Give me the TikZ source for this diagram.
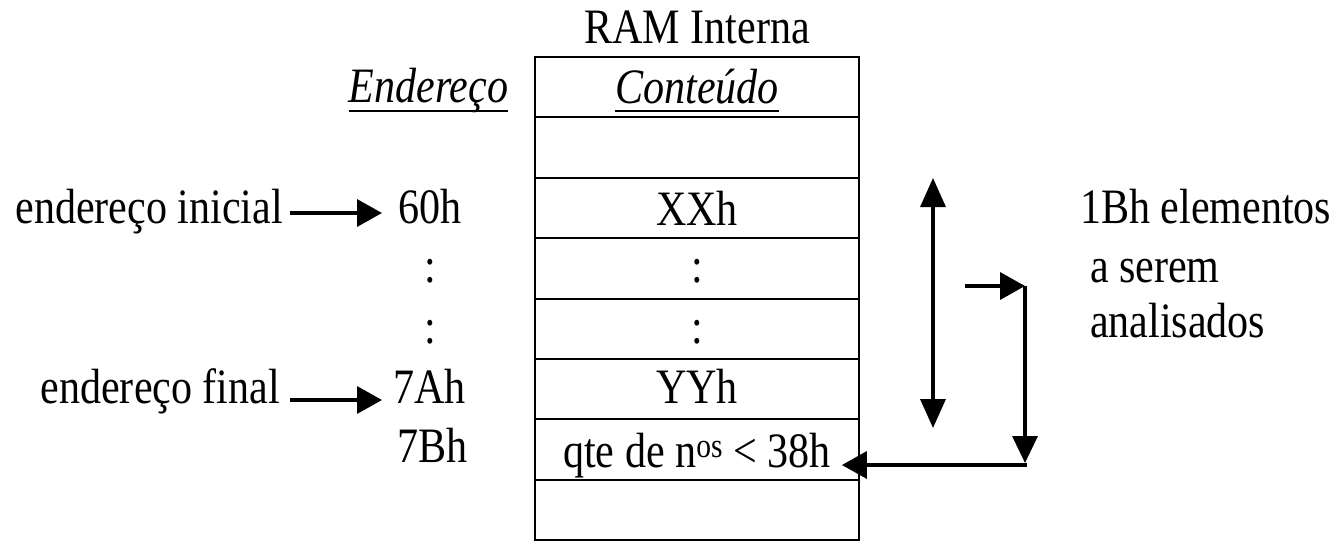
\documentclass[tikz,border=0pt]{standalone}
\usepackage{fontspec}
\setmainfont{Liberation Serif}[FakeStretch=0.85]
\usetikzlibrary{arrows.meta,calc}
\begin{document}
\begin{tikzpicture}[x=1pt,y=-1pt,
  txt/.style={inner sep=0pt,outer sep=0pt,font=\fontsize{49.5}{56}\selectfont},
  cell/.style={draw,line width=2pt,minimum width=324pt,minimum height=60.4pt,inner sep=0pt},
  arr/.style={line width=3.5pt,-{Triangle[length=25pt,width=27pt]}},
  darr/.style={line width=3.5pt,{Triangle[length=29pt,width=25pt]}-{Triangle[length=29pt,width=25pt]}},
  uline/.style={line width=2pt}]
\useasboundingbox (0,0) rectangle (1336,541);
% table cells
\foreach \i in {0,...,7}{
  \node[cell] (row\i) at (697,{57+30.2+60.4*\i}) {};
}
% title and headers
\node[txt,anchor=base] (ram) at (697,43) {RAM Interna};
\node[txt,anchor=base] (cont) at (697,103) {\itshape Conteúdo};
\node[txt,anchor=base] (endr) at (428.5,102) {\itshape Endereço};
\draw[uline] ([yshift=-8pt]cont.base west) -- ([yshift=-8pt]cont.base east);
\draw[uline] ([yshift=-9pt]endr.base west) -- ([yshift=-9pt]endr.base east);
% contents
\node[txt,anchor=base] (xx) at (697,225) {XXh};
\node[txt,anchor=base] (cd1) at (697,282) {:};
\node[txt,anchor=base] (cd2) at (697,343) {:};
\node[txt,anchor=base] (yy) at (697,403) {YYh};
\node[txt,anchor=base] (qte) at (697,467) {qte de n\textsuperscript{os} < 38h};
% addresses
\node[txt,anchor=base east] (ini) at (283,223) {endereço inicial};
\node[txt,anchor=base west] (a60) at (398,223) {60h};
\node[txt,anchor=base] (ad1) at (430,282) {:};
\node[txt,anchor=base] (ad2) at (430,343) {:};
\node[txt,anchor=base east] (fin) at (280,403) {endereço final};
\node[txt,anchor=base west] (a7a) at (393,403) {7Ah};
\node[txt,anchor=base west] (a7b) at (397,462) {7Bh};
% right text
\node[txt,anchor=base west] (el1) at (1080,223) {1Bh elementos};
\node[txt,anchor=base west] (el2) at (1090,282) {a serem};
\node[txt,anchor=base west] (el3) at (1090,337) {analisados};
% left arrows
\draw[arr] ($(ini.base east)+(7,-10)$) -- ($(ini.base east -| a60.west)+(-16,-10)$);
\draw[arr] ($(fin.base east)+(10,-3)$) -- ($(fin.base east -| a7a.west)+(-11,-3)$);
% right arrows
\coordinate (dtop) at (933,178);
\coordinate (dbot) at (933,428);
\draw[darr] (dtop) -- (dbot);
\coordinate (s) at (965,286);
\coordinate (c1) at (1025,286);
\coordinate (c2) at (1025,465);
\draw[arr] (s) -- (c1);
\draw[line width=3.5pt,-{Triangle[length=27pt,width=25pt]}] (c1) -- ($(c2)+(0,-2)$);
\draw[arr] ($(c2)+(1.75,0)$) -- ($(c2 -| qte.east)+(11,0)$);
\end{tikzpicture}
\end{document}
